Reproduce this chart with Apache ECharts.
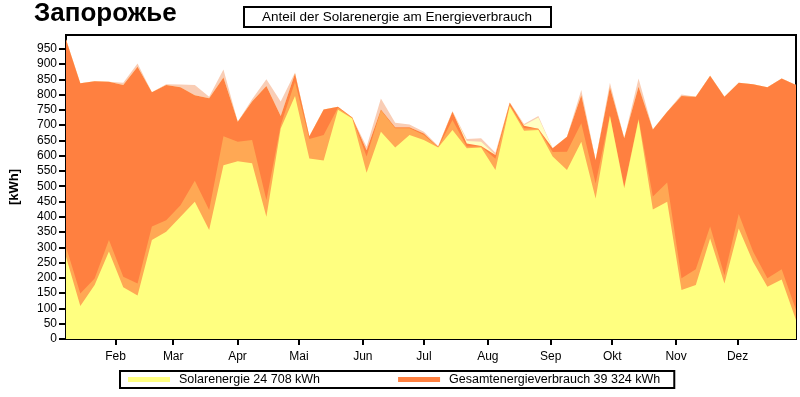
<!DOCTYPE html>
<html>
<head>
<meta charset="utf-8">
<script src="https://cdn.jsdelivr.net/npm/echarts@6/dist/echarts.min.js"></script>
<style>
  html, body { margin: 0; padding: 0; background: #fff; }
  #chart { width: 800px; height: 397px; }
</style>
</head>
<body>
<div id="chart"></div>
<script>
// weekly values, kWh (week index 0..51)
const envelope = [980, 837, 844, 842, 839, 902, 808, 834, 833, 831, 793, 882, 711, 785, 850, 777, 872, 664, 751, 760,
  725, 629, 787, 708, 702, 678, 632, 746, 655, 657, 610, 775, 704, 730, 624, 662, 815, 586, 839, 657,
  853, 686, 744, 800, 793, 862, 793, 839, 834, 824, 853, 831]
const paleSolar = [980, 837, 844, 842, 831, 891, 808, 831, 824, 798, 788, 856, 711, 777, 828, 730, 869, 664, 751, 760,
  725, 618, 751, 693, 693, 673, 629, 744, 648, 646, 602, 773, 700, 725, 624, 662, 798, 586, 824, 657,
  826, 686, 744, 795, 793, 862, 793, 839, 834, 824, 853, 831]
const totalUse = [980, 837, 844, 842, 831, 891, 808, 831, 824, 798, 788, 856, 711, 777, 828, 730, 869, 664, 751, 760,
  725, 618, 751, 693, 693, 673, 629, 744, 640, 632, 602, 773, 698, 688, 624, 662, 798, 586, 824, 657,
  826, 686, 744, 795, 793, 862, 793, 839, 834, 824, 853, 831]
const solarPlus = [302, 149, 198, 324, 204, 182, 368, 389, 438, 518, 422, 664, 646, 651, 455, 700, 842, 655, 668, 757,
  723, 597, 749, 690, 690, 668, 628, 717, 630, 630, 590, 766, 690, 688, 612, 613, 706, 509, 732, 498,
  722, 466, 512, 199, 228, 368, 209, 409, 286, 199, 228, 95]
const solar = [269, 108, 177, 286, 169, 142, 324, 351, 400, 449, 357, 569, 582, 575, 400, 689, 795, 591, 584, 750,
  722, 544, 678, 627, 668, 651, 627, 684, 624, 627, 553, 762, 682, 684, 597, 553, 646, 460, 730, 493,
  717, 424, 449, 160, 177, 329, 182, 362, 253, 171, 195, 62]

const months = ['Feb', 'Mar', 'Apr', 'Mai', 'Jun', 'Jul', 'Aug', 'Sep', 'Okt', 'Nov', 'Dez']
// month starts, in week units
const monthTicks = [3.46, 7.49, 11.98, 16.28, 20.74, 25.01, 29.47, 33.86, 38.16, 42.62, 46.92]
const yTicks = [0, 50, 100, 150, 200, 250, 300, 350, 400, 450, 500, 550, 600, 650, 700, 750, 800, 850, 900, 950]

const solarName = 'Solarenergie 24 708 kWh'
const totalName = 'Gesamtenergieverbrauch 39 324 kWh'

const font = '"Liberation Sans", Arial, sans-serif'

function toPoints(arr) {
  return arr.map((v, i) => [i, v])
}

function areaSeries(name, data, color) {
  return {
    name: name,
    type: 'line',
    data: toPoints(data),
    symbol: 'none',
    lineStyle: { width: 0 },
    itemStyle: { color: color },
    areaStyle: { color: color, opacity: 1 },
    silent: true,
    animation: false
  }
}

const chart = echarts.init(document.getElementById('chart'))
chart.setOption({
  animation: false,
  backgroundColor: '#fff',
  textStyle: { fontFamily: font },
  title: {
    text: 'Запорожье',
    left: 34,
    top: 1,
    padding: 0,
    textStyle: { fontFamily: font, fontSize: 26, fontWeight: 'bold', color: '#000' }
  },
  graphic: [
    {
      type: 'rect',
      shape: { x: 244, y: 7, width: 307, height: 20 },
      style: { fill: '#fff', stroke: '#000', lineWidth: 2 }
    },
    {
      type: 'text',
      x: 397,
      y: 17,
      style: {
        text: 'Anteil der Solarenergie am Energieverbrauch',
        fontFamily: font,
        fontSize: 13.5,
        fill: '#000',
        align: 'center',
        verticalAlign: 'middle'
      }
    }
  ],
  legend: {
    left: 120,
    top: 371,
    orient: 'horizontal',
    padding: [2, 14, 2, 8],
    borderColor: '#000',
    borderWidth: 2,
    itemWidth: 42,
    itemHeight: 5,
    itemGap: 78,
    icon: 'rect',
    textStyle: { fontFamily: font, fontSize: 12.5, color: '#000', padding: [0, 0, 0, 4] },
    data: [
      { name: solarName, itemStyle: { color: '#FFFF80' } },
      { name: totalName, itemStyle: { color: '#FF8040' } }
    ]
  },
  grid: {
    left: 64,
    right: 4,
    top: 35,
    bottom: 58,
    show: true,
    borderColor: '#000',
    borderWidth: 2,
    backgroundColor: '#fff'
  },
  xAxis: {
    type: 'value',
    min: 0,
    max: 51,
    axisLine: { show: true, lineStyle: { color: '#000', width: 2 } },
    axisTick: {
      show: true,
      length: 6,
      customValues: monthTicks,
      lineStyle: { color: '#000', width: 2 }
    },
    axisLabel: {
      customValues: monthTicks,
      formatter: v => {
        const i = monthTicks.indexOf(v)
        return i >= 0 ? months[i] : ''
      },
      color: '#000',
      fontFamily: font,
      fontSize: 12,
      margin: 12
    },
    splitLine: { show: false }
  },
  yAxis: {
    type: 'value',
    min: 0,
    max: 995,
    name: '[kWh]',
    nameLocation: 'middle',
    nameGap: 45,
    nameTextStyle: { fontFamily: font, fontSize: 13, fontWeight: 'bold', color: '#000' },
    axisLine: { show: true, lineStyle: { color: '#000', width: 2 } },
    axisTick: {
      show: true,
      length: 7,
      customValues: yTicks,
      lineStyle: { color: '#000', width: 2 }
    },
    axisLabel: {
      customValues: yTicks,
      color: '#000',
      fontFamily: font,
      fontSize: 12,
      margin: 9
    },
    splitLine: { show: false }
  },
  series: [
    areaSeries('envelope', envelope, '#F9CDB5'),
    areaSeries('paleSolar', paleSolar, '#FFFFC4'),
    areaSeries(totalName, totalUse, '#FF8040'),
    areaSeries('solarPlus', solarPlus, '#FFA854'),
    areaSeries(solarName, solar, '#FFFF80')
  ]
})
</script>
</body>
</html>
